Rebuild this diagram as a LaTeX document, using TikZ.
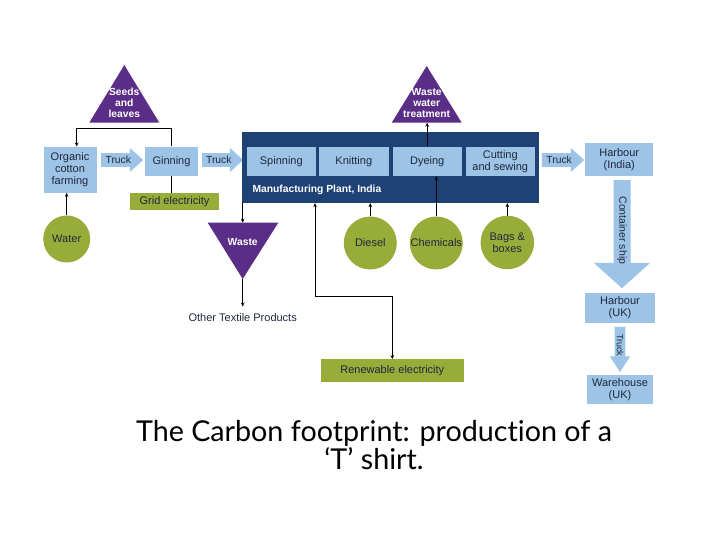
\documentclass[tikz,border=0pt]{standalone}
\usepackage{fontspec}
\setmainfont{Liberation Sans}
\newfontfamily\capfont[Ligatures=NoCommon]{Lato}
\usetikzlibrary{positioning, shapes.geometric, shapes.arrows, arrows.meta}
\definecolor{boxblue}{RGB}{157,195,230}
\definecolor{plantblue}{RGB}{30,66,118}
\definecolor{wastepurple}{RGB}{90,45,135}
\definecolor{inputgreen}{RGB}{152,172,58}
\definecolor{labelink}{RGB}{30,40,60}
\tikzset{
  procbox/.style={fill=boxblue, text=labelink, inner sep=0pt, align=center,
    font=\fontsize{11}{11.8}\selectfont}
}
\tikzset{
  greenbar/.style={fill=inputgreen, text=labelink, inner sep=0pt,
    font=\fontsize{11}{11.8}\selectfont},
  greencircle/.style={circle, fill=inputgreen, text=labelink, inner sep=0pt,
    align=center, font=\fontsize{11}{11.8}\selectfont}
}
\tikzset{
  whitetext/.style={text=white, align=center, font=\bfseries\fontsize{10.3}{11}\selectfont},
  truckarrow/.style={single arrow, fill=boxblue, text=labelink, anchor=tail,
    inner xsep=1pt, inner ysep=3pt, single arrow head extend=5pt,
    single arrow tip angle=84, font=\fontsize{10.3}{11}\selectfont},
  link/.style={line width=0.7pt, -{Stealth[length=4pt,width=3.5pt]}},
  linkboth/.style={line width=0.7pt, {Stealth[length=4pt,width=3.5pt]}-{Stealth[length=4pt,width=3.5pt]}}
}

\begin{document}
\begin{tikzpicture}[x=1pt, y=-1pt]
  \path[fill=white, use as bounding box] (0,0) rectangle (720,540);

  % farm and ginning
  \fill[wastepurple] (124.3,65) -- (159.3,122.7) -- (89.3,122.7) -- cycle;
  \node[whitetext] (seeds) at (124.3,103) {Seeds\\and\\leaves};
  \node[procbox, minimum width=53pt, minimum height=46pt] (orga) at (70,169.7) {Organic\\cotton\\farming};
  \node[procbox, minimum width=53pt, minimum height=29.3pt] (gin) at (171.5,161.3) {Ginning};
  \node[greenbar, minimum width=89pt, minimum height=17pt] (grid) at (174.5,201.5) {Grid electricity};
  \node[greencircle, minimum size=47pt] (water) at (66.7,239) {Water};
  \node[truckarrow, minimum height=42pt] (truckA) at (101,160) {Truck};
  \node[truckarrow, minimum height=41pt] (truckB) at (202,160) {Truck};

  % plant with its four steps
  \node[fill=plantblue, inner sep=0pt, minimum width=297.3pt, minimum height=71.3pt] (plant) at (390.3,167.3) {};
  \node[procbox, minimum width=69.3pt, minimum height=29.3pt] (spin) at (281.3,161.3) {Spinning};
  \node[procbox, minimum width=69.7pt, minimum height=29.3pt] (knit) at (353.8,161.3) {Knitting};
  \node[procbox, minimum width=69pt, minimum height=29.3pt] (dye) at (427.2,161.3) {Dyeing};
  \node[procbox, minimum width=69.3pt, minimum height=29.3pt] (cut) at (500.3,161.3) {Cutting\\and sewing};
  \node[whitetext, anchor=west] (plantlabel) at (249,190) {Manufacturing Plant, India};

  \fill[wastepurple] (426.7,66) -- (461.7,122.7) -- (391.7,122.7) -- cycle;
  \node[whitetext] (wwt) at (426.7,103) {Waste\\water\\treatment};
  \coordinate (wwbase) at (426.7,122.7);

  \fill[wastepurple] (207.7,222.7) -- (278.3,222.7) -- (242.7,279) -- cycle;
  \node[whitetext] (waste) at (242.7,241.7) {Waste};
  \coordinate (wastetop) at (242.7,222.7);
  \coordinate (wastetip) at (242.7,279);
  \node[text=labelink, inner xsep=0pt, inner ysep=6.5pt, font=\fontsize{11}{12}\selectfont] (other) at (242.7,317.3) {Other Textile Products};

  \node[greencircle, minimum size=53pt] (diesel) at (370.3,243) {Diesel};
  \node[greencircle, minimum size=53pt] (chem) at (436.3,243) {Chemicals};
  \node[greencircle, minimum size=53.5pt] (bags) at (507.3,242.5) {Bags \&\\boxes};
  \node[greenbar, minimum width=143.3pt, minimum height=22.4pt] (renew) at (392.3,370.5) {Renewable electricity};

  % shipping
  \node[truckarrow, minimum height=42.3pt] (truckC) at (541.7,160) {Truck};
  \node[procbox, minimum width=68.3pt, minimum height=33.3pt] (harin) at (619.2,159.3) {Harbour\\(India)};
  \node[truckarrow, rotate=-90, minimum height=108pt, inner ysep=3.4pt,
    single arrow head extend=19.6pt, single arrow tip angle=96,
    font=\fontsize{10.5}{11}\selectfont] (ship) at (622,180) {Container ship};
  \node[procbox, minimum width=70pt, minimum height=29.4pt] (haruk) at (620,308) {Harbour\\(UK)};
  \node[truckarrow, rotate=-90, minimum height=45pt, inner ysep=1.8pt,
    single arrow head extend=5pt, single arrow tip angle=67,
    font=\fontsize{9}{10}\selectfont] (truckD) at (620,326.7) {Truck};
  \node[procbox, minimum width=66.7pt, minimum height=29pt] (ware) at (620,389.5) {Warehouse\\(UK)};

  % connectors
  \draw[link] (water.north) -- (water.north |- orga.south);
  \draw[link] (gin.north) -- ++(0,-17.7) -| ([xshift=6.7pt]orga.north);
  \draw[line width=0.7pt] (gin.south) -- (gin.south |- grid.north);
  \draw[link] (dye.north) -- (dye.north |- wwbase);
  \draw[link] (plant.south -| wastetop) -- (wastetop);
  \draw[link] (wastetip) -- (other.north);
  \coordinate (renewbend) at (315,296.7);
  \draw[linkboth] (plant.south -| renewbend) -- (renewbend) -| (renew.north);
  \draw[link] (diesel.north) -- (diesel.north |- plant.south);
  \draw[link] (chem.north) -- (chem.north |- dye.south);
  \draw[link] (bags.north) -- (bags.north |- plant.south);

  \node[align=center, font=\capfont\fontsize{28.7}{24.5}\selectfont] (caption) at (374,445) {The Carbon footprint: production of a\\‘T’ shirt.};
\end{tikzpicture}
\end{document}
